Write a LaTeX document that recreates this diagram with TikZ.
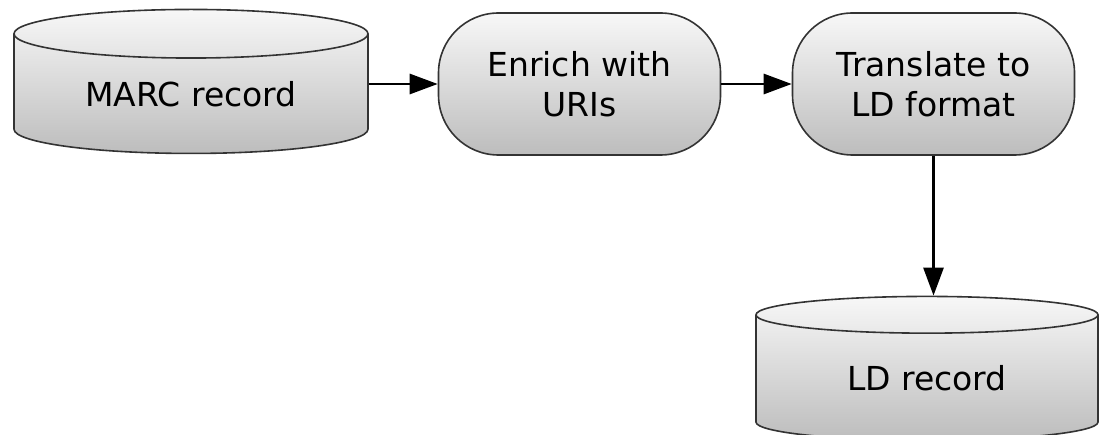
\documentclass[tikz,border=0pt]{standalone}
\usepackage{fontspec}
\setmainfont{DejaVu Sans}
\usetikzlibrary{arrows.meta,shapes.geometric}

\begin{document}
\begin{tikzpicture}[x=1pt,y=-1pt,
  base/.style={draw=black!80,line width=1.6pt,inner sep=0pt,align=center,
    top color=white!97!black,bottom color=white!74!black,
    font=\fontsize{33}{40}\selectfont},
  store/.style={base,cylinder,shape border rotate=90,aspect=0.23,
    minimum width=354pt,minimum height=144pt},
  task/.style={base,rectangle,rounded corners=60pt,
    minimum width=282pt,minimum height=142pt},
  flow/.style={line width=2.8pt,-{Triangle[length=28pt,width=20pt]}}]
\useasboundingbox (0,0) rectangle (1099,435);

\node[store] (marc) at (191,94) {MARC record};
\node[task] (enrich) at (579.5,84) {Enrich with\\URIs};
\node[task] (translate) at (933.5,84) {Translate to\\LD format};
\node[store,minimum width=342pt] (ld) at (927,378) {LD record};

\draw[flow] (marc.east |- enrich.west) -- (enrich.west);
\draw[flow] (enrich) -- (translate);
\draw[flow] (translate.south) -- (translate.south |- ld.north);

\end{tikzpicture}
\end{document}
